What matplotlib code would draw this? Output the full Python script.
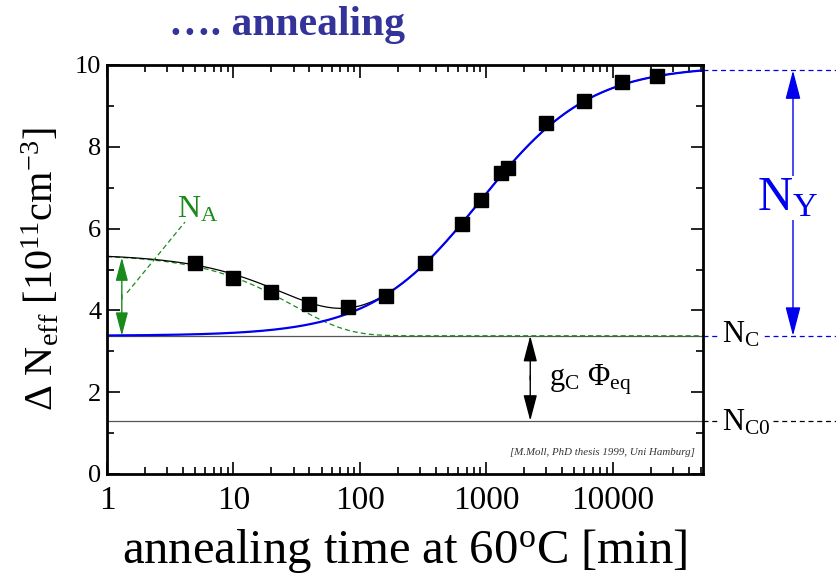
import numpy as np
import matplotlib
matplotlib.use("Agg")
import matplotlib.pyplot as plt
from matplotlib.ticker import MultipleLocator, LogLocator, NullFormatter, FixedLocator

plt.rcParams['font.family'] = ['Liberation Serif', 'DejaVu Serif']
plt.rcParams['mathtext.fontset'] = 'custom'
plt.rcParams['mathtext.rm'] = 'Liberation Serif'
plt.rcParams['mathtext.it'] = 'Liberation Serif:italic'
plt.rcParams['mathtext.bf'] = 'Liberation Serif:bold'

# measured data: annealing time [min] and Delta N_eff [1e11 cm^-3]
t_data = [5, 10, 20, 40, 81, 162, 330, 646, 912, 1318, 1496, 2990, 5980, 11960, 22400]
n_data = [5.16, 4.79, 4.45, 4.16, 4.08, 4.35, 5.16, 6.11, 6.70, 7.36, 7.48, 8.58, 9.12, 9.58, 9.73]

# fit parameters (Hamburg model)
N_A = 2.0
tau_a = 30.0
N_C = 3.38
N_C0 = 1.30
N_Y = 6.6
tau_y = 900.0

x_ticks = [1, 10, 100, 1000, 10000]
x_ticklabels = ['1', '10', '100', '1000', '10000']
y_ticks = [0, 2, 4, 6, 8, 10]

t = np.logspace(0, np.log10(5.2e4), 600)
short = N_C + N_A * np.exp(-t / tau_a)
rev = N_C + N_Y * (1 - 1 / (1 + t / tau_y))
total = N_A * np.exp(-t / tau_a) + N_C + N_Y * (1 - 1 / (1 + t / tau_y))

fig = plt.figure(figsize=(8.37, 5.77), dpi=100)
ax = fig.add_axes([107/837, 1 - 474/577, (703-107)/837, (474-65)/577])

ax.axhline(N_C, color='#555555', lw=0.9)
ax.axhline(N_C0, color='#555555', lw=0.9)
ax.plot(t, short, color='#1a8a1a', lw=0.9, ls=(0, (4, 2.5)))
ax.plot(t, total, color='black', lw=0.9)
ax.plot(t, rev, color='#0000ee', lw=1.6)
ax.plot(t_data, n_data, ls='none', marker='s', ms=9.5, color='black')

ax.set_xscale('log')
ax.set_xlim(1, 5.2e4)
ax.set_ylim(0, 10)
ax.xaxis.set_major_locator(FixedLocator(x_ticks))
ax.set_xticklabels(x_ticklabels)
ax.xaxis.set_minor_locator(LogLocator(base=10, subs=np.arange(2, 10)))
ax.xaxis.set_minor_formatter(NullFormatter())
ax.set_yticks(y_ticks)
ax.yaxis.set_minor_locator(MultipleLocator(1))
ax.tick_params(which='both', direction='in', top=True, right=True, width=1.2)
ax.tick_params(which='major', length=9)
ax.tick_params(which='minor', length=5)
ax.tick_params(axis='x', which='major', labelsize=24, pad=8)
ax.tick_params(axis='y', which='major', labelsize=19, pad=4)
for s in ax.spines.values():
    s.set_linewidth(2)

ax.set_xlabel(r'annealing time at 60$^{\mathrm{o}}$C [min]', fontsize=35, labelpad=8)
ax.set_ylabel(r'$\Delta$ N$_{\mathrm{eff}}$ [10$^{11}$cm$^{-3}$]', fontsize=29, labelpad=9)

fig.text(0.343, 0.939, '…. annealing', fontsize=30, fontweight='bold', color='#333399',
         ha='center', va='baseline')

def arrow(xy, xytext, color, L, W, trans=None, lw=1):
    kw = {}
    if trans is not None:
        kw = dict(xycoords=trans, textcoords=trans)
    ax.annotate('', xy=xy, xytext=xytext, annotation_clip=False,
                arrowprops=dict(arrowstyle='-|>,head_length=%g,head_width=%g' % (L / 20, W / 20),
                                color=color, lw=lw, mutation_scale=20, shrinkA=0, shrinkB=0), **kw)

# green arrow for N_A
green = '#1a8a1a'
xa = 1.31
top_a = N_C + N_A * np.exp(-xa / tau_a)
arrow((xa, top_a), (xa, N_C + 0.9), green, 14.4, 3.8)
arrow((xa, N_C), (xa, N_C + 1.0), green, 14.4, 3.8)
ax.plot([1.44, 4.14], [4.43, 6.16], color=green, lw=0.9, ls=(0, (4, 2.5)))
ax.text(5.2, 6.45, r'N$_{\mathrm{A}}$', color=green, fontsize=23, ha='center', va='center')

# black arrow g_C Phi_eq
xg = 2234
arrow((xg, N_C), (xg, N_C0 + 1.0), 'black', 16, 4.2)
arrow((xg, N_C0), (xg, N_C0 + 1.1), 'black', 16, 4.2)
ax.text(6700, 2.3, r'g$_{\mathrm{C}}$ $\Phi_{\mathrm{eq}}$', fontsize=22, ha='center', va='center')

ax.text(0.987, 0.046, '[M.Moll, PhD thesis 1999, Uni Hamburg]', transform=ax.transAxes,
        fontsize=7.8, style='italic', ha='right', va='baseline', color='#333333')

# outside annotations
tr = ax.get_yaxis_transform()
top_val = rev[-1]
ax.plot([1.0, 1.23], [top_val, top_val], transform=tr, clip_on=False, color='#0000ee', lw=0.9, ls=(0, (4, 3)))
ax.plot([1.0, 1.23], [N_C, N_C], transform=tr, clip_on=False, color='#0000ee', lw=0.9, ls=(0, (4, 3)))
ax.plot([1.0, 1.23], [N_C0, N_C0], transform=tr, clip_on=False, color='black', lw=0.9, ls=(0, (4, 3)))
ax.text(1.064, N_C + 0.02, r'N$_{\mathrm{C}}$', transform=tr, fontsize=22, ha='center', va='center',
        bbox=dict(facecolor='white', edgecolor='none', pad=1))
ax.text(1.073, N_C0 - 0.05, r'N$_{\mathrm{C0}}$', transform=tr, fontsize=22, ha='center', va='center',
        bbox=dict(facecolor='white', edgecolor='none', pad=1))

xy = 1.151
arrow((xy, top_val), (xy, 6.8), '#0000ee', 18, 4.7, trans=tr)
arrow((xy, N_C), (xy, 6.8), '#0000ee', 18, 4.7, trans=tr)
ax.text(1.142, 6.75, r'N$_{\mathrm{Y}}$', transform=tr, fontsize=35, color='#0000ee', ha='center', va='center',
        bbox=dict(facecolor='white', edgecolor='none', pad=0))

fig.savefig('out.png', dpi=100)
